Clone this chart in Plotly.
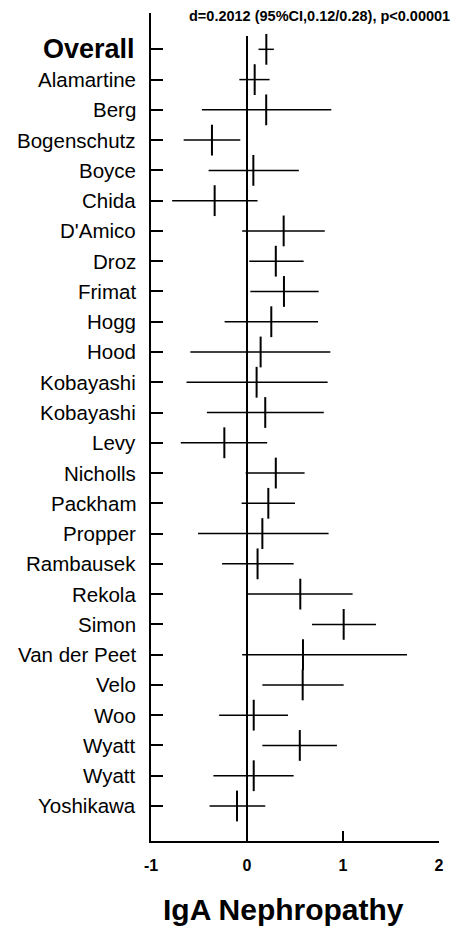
import plotly.graph_objects as go

studies = ["Overall", "Alamartine", "Berg", "Bogenschutz", "Boyce", "Chida", "D'Amico",
           "Droz", "Frimat", "Hogg", "Hood", "Kobayashi", "Kobayashi", "Levy", "Nicholls",
           "Packham", "Propper", "Rambausek", "Rekola", "Simon", "Van der Peet", "Velo",
           "Woo", "Wyatt", "Wyatt", "Yoshikawa"]
effect = [0.2012, 0.08, 0.20, -0.365, 0.066, -0.337, 0.382, 0.30, 0.385, 0.253, 0.142,
          0.10, 0.19, -0.236, 0.30, 0.222, 0.16, 0.11, 0.555, 1.007, 0.583, 0.58, 0.07,
          0.55, 0.07, -0.104]
ci_low = [0.12, -0.08, -0.47, -0.66, -0.40, -0.78, -0.05, 0.024, 0.035, -0.233, -0.59,
          -0.63, -0.417, -0.69, -0.014, -0.056, -0.51, -0.26, 0.0, 0.677, -0.05, 0.16,
          -0.29, 0.16, -0.35, -0.39]
ci_high = [0.28, 0.235, 0.878, -0.07, 0.54, 0.11, 0.81, 0.59, 0.746, 0.74, 0.868, 0.84,
           0.80, 0.21, 0.60, 0.50, 0.85, 0.486, 1.10, 1.344, 1.667, 1.007, 0.427, 0.937,
           0.486, 0.19]
x_ticks = [-1, 0, 1, 2]
x_ticklabels = ["-1", "0", "1", "2"]
summary_text = "d=0.2012 (95%CI,0.12/0.28), p<0.00001"
title_text = "IgA Nephropathy"

FONT = "Liberation Sans, Arial, Helvetica, sans-serif"
rows = list(range(len(studies)))

fig = go.Figure()
fig.add_trace(go.Scatter(
    x=effect, y=rows, mode="markers",
    marker=dict(symbol="line-ns", size=22, color="black",
                line=dict(width=2, color="black")),
    error_x=dict(type="data", symmetric=False,
                 array=[h - e for h, e in zip(ci_high, effect)],
                 arrayminus=[e - l for e, l in zip(effect, ci_low)],
                 width=0, thickness=1.5, color="black"),
    cliponaxis=False, hoverinfo="skip", showlegend=False,
))

n = len(studies)
y_bottom = n - 1 + 1.157
y_top = -1.2

fig.add_shape(type="line", xref="x", yref="y", x0=0, x1=0, y0=-0.44, y1=y_bottom,
              line=dict(color="black", width=2))

for i, name in enumerate(studies):
    if i == 0:
        fig.add_annotation(x=-0.048, xref="paper", y=i, yref="y", text="<b>%s</b>" % name,
                           showarrow=False, xanchor="right", yanchor="middle",
                           font=dict(family=FONT, size=27, color="black"))
    else:
        fig.add_annotation(x=-0.046, xref="paper", y=i, yref="y", text=name,
                           showarrow=False, xanchor="right", yanchor="middle",
                           font=dict(family=FONT, size=20.5, color="black"))

plot_h = 932 - 13 - 91

fig.update_layout(
    width=457, height=932,
    margin=dict(l=151, r=18, t=13, b=91),
    paper_bgcolor="white", plot_bgcolor="white",
    font=dict(family=FONT, color="black"),
    xaxis=dict(range=[-1, 2], showgrid=False, zeroline=False, showline=True,
               linecolor="black", linewidth=2, ticks="inside", ticklen=10,
               tickwidth=2, tickcolor="black", tickvals=x_ticks,
               ticktext=["<b>%s</b>" % t for t in x_ticklabels],
               tickfont=dict(family=FONT, size=16, color="black"),
               ticklabelstandoff=9),
    yaxis=dict(range=[y_bottom, y_top], showgrid=False, zeroline=False, showline=True,
               linecolor="black", linewidth=2, ticks="inside", ticklen=12,
               tickwidth=1.5, tickcolor="black", tickvals=rows, showticklabels=False),
)

# summary text at top (pixel y ~15.5 from top)
fig.add_annotation(x=(319 - 151) / 288, xref="paper", y=1 + (13 - 15.5) / plot_h,
                   yref="paper", xanchor="center", yanchor="middle",
                   text="<b>%s</b>" % summary_text, showarrow=False,
                   font=dict(family=FONT, size=14.5, color="black"))
# bottom title (pixel y ~910)
fig.add_annotation(x=(283 - 151) / 288, xref="paper", y=-(910 - 841) / plot_h,
                   yref="paper", xanchor="center", yanchor="middle",
                   text="<b>%s</b>" % title_text, showarrow=False,
                   font=dict(family=FONT, size=30, color="black"))

fig.write_html("out.html")
